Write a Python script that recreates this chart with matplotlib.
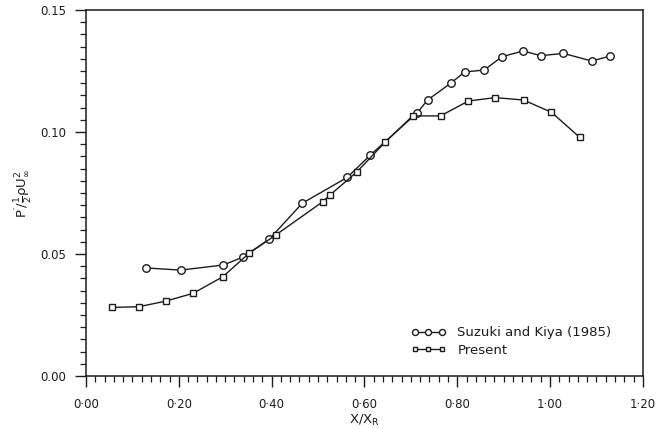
import matplotlib
matplotlib.use("Agg")
import matplotlib.pyplot as plt
from matplotlib.ticker import MultipleLocator, FixedLocator, FixedFormatter

# Suzuki and Kiya (1985) - circles
suzuki_x = [0.129, 0.204, 0.296, 0.339, 0.395, 0.466, 0.563, 0.613, 0.713, 0.736,
            0.786, 0.816, 0.858, 0.897, 0.942, 0.980, 1.029, 1.090, 1.129]
suzuki_y = [0.0443, 0.0434, 0.0455, 0.0488, 0.0561, 0.0708, 0.0814, 0.0906, 0.1077, 0.1131,
            0.1200, 0.1246, 0.1254, 0.1309, 0.1332, 0.1313, 0.1322, 0.1291, 0.1311]

# Present - squares
present_x = [0.055, 0.114, 0.172, 0.231, 0.295, 0.352, 0.409, 0.510, 0.526, 0.584,
             0.645, 0.704, 0.764, 0.824, 0.882, 0.943, 1.003, 1.064]
present_y = [0.0281, 0.0284, 0.0307, 0.0339, 0.0407, 0.0504, 0.0578, 0.0714, 0.0742, 0.0837,
             0.0959, 0.1066, 0.1066, 0.1127, 0.1141, 0.1131, 0.1081, 0.0978]

x_ticks = [0.0, 0.2, 0.4, 0.6, 0.8, 1.0, 1.2]
x_tick_labels = ["0·00", "0·20", "0·40", "0·60", "0·80", "1·00", "1·20"]
y_ticks = [0.0, 0.05, 0.10, 0.15]
y_tick_labels = ["0.00", "0.05", "0.10", "0.15"]

plt.rcParams['font.family'] = ['DejaVu Sans']
ink = '#1c1c1c'

fig = plt.figure(figsize=(6.6, 4.29), dpi=100)
ax = fig.add_axes([0.1303, 0.1235, 0.8437, 0.8532])

ax.plot(suzuki_x, suzuki_y, color=ink, lw=1.0, marker='o', ms=5.4, mfc='white',
        mec=ink, mew=1.0, label='Suzuki and Kiya (1985)')
ax.plot(present_x, present_y, color=ink, lw=1.0, marker='s', ms=4.3, mfc='white',
        mec=ink, mew=1.0, label='Present')

ax.set_xlim(0, 1.2)
ax.set_ylim(0, 0.15)
ax.xaxis.set_major_locator(FixedLocator(x_ticks))
ax.xaxis.set_major_formatter(FixedFormatter(x_tick_labels))
ax.xaxis.set_minor_locator(MultipleLocator(0.02))
ax.yaxis.set_major_locator(FixedLocator(y_ticks))
ax.yaxis.set_major_formatter(FixedFormatter(y_tick_labels))
ax.yaxis.set_minor_locator(MultipleLocator(0.005))

ax.tick_params(axis='both', which='major', direction='out', length=8, width=1.0,
               color=ink, labelcolor=ink, labelsize=8.5)
ax.tick_params(axis='both', which='minor', direction='out', length=4.5, width=0.9, color=ink)
ax.tick_params(axis='x', which='major', pad=8)
ax.tick_params(axis='y', which='major', pad=6)

for s in ax.spines.values():
    s.set_color(ink)
    s.set_linewidth(1.1)

ax.set_xlabel('X/X$_\\mathregular{R}$', fontsize=9.5, color=ink, labelpad=1)
ax.set_ylabel(r"$\mathregular{P'/\frac{1}{2}\rho U_{\infty}^{2}}$", fontsize=9.5,
              color=ink, labelpad=4)

leg = ax.legend(loc='lower right', bbox_to_anchor=(0.965, 0.02), frameon=False,
                numpoints=3, handlelength=2.6, handletextpad=0.9, labelspacing=0.35,
                fontsize=9.5, markerscale=0.8)
for t in leg.get_texts():
    t.set_color(ink)

fig.savefig('out.png', dpi=100, facecolor='white')
